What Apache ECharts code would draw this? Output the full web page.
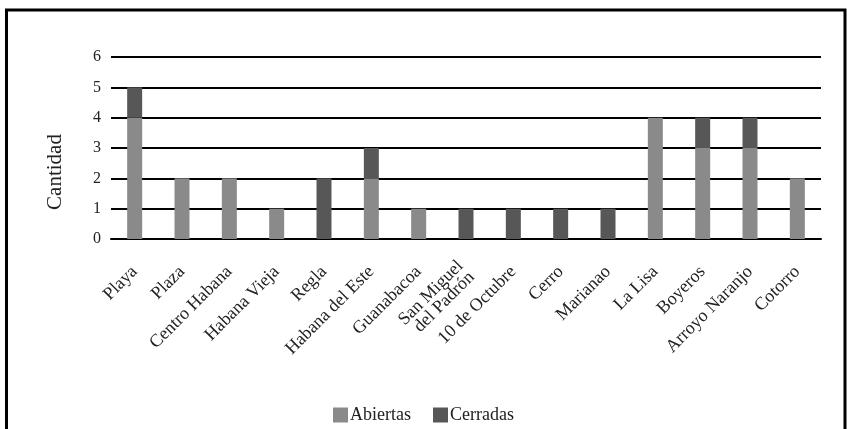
<!DOCTYPE html>
<html><head><meta charset="utf-8">
<script src="https://cdn.jsdelivr.net/npm/echarts@6/dist/echarts.min.js"></script>
<style>html,body{margin:0;padding:0;background:#fff}#c{width:847px;height:429px}</style>
</head><body><div id="c"></div>
<script>
const categories = ["Playa","Plaza","Centro Habana","Habana Vieja","Regla","Habana del Este","Guanabacoa","San Miguel\ndel Padrón","10 de Octubre","Cerro","Marianao","La Lisa","Boyeros","Arroyo Naranjo","Cotorro"];
const abiertas = [4,2,2,1,0,2,1,0,0,0,0,4,3,3,2];
const cerradas = [1,0,0,0,2,1,0,1,1,1,1,0,1,1,0];
const seriesNames = ["Abiertas","Cerradas"];
const yTicks = [0,1,2,3,4,5,6];

const font = "Liberation Serif";
const chart = echarts.init(document.getElementById('c'));
chart.setOption({
  animation:false,
  textStyle:{fontFamily:font},
  graphic:[{type:'polyline',shape:{points:[[6.5,429],[6.5,10],[845,10],[845,429]]},style:{stroke:'#000',lineWidth:3,fill:null}}],
  grid:{left:111,right:26,top:57,bottom:190},
  legend:{top:401,left:'center',itemWidth:15,itemHeight:15,itemGap:22,icon:'rect',
    textStyle:{fontFamily:font,fontSize:18,color:'#222',padding:[0,0,0,-3]},data:seriesNames},
  xAxis:{type:'category',data:categories,
    axisLine:{lineStyle:{color:'#000',width:2}},axisTick:{show:false},
    axisLabel:{rotate:45,interval:0,fontFamily:font,fontSize:18,color:'#222',margin:30,lineHeight:16}},
  yAxis:{type:'value',min:0,max:6,interval:1,name:'Cantidad',nameLocation:'middle',nameGap:45,
    nameTextStyle:{fontFamily:font,fontSize:21,color:'#222',padding:[0,48,0,0]},
    axisLine:{show:false},axisTick:{show:false},
    axisLabel:{fontFamily:font,fontSize:16,color:'#222',margin:10,
      formatter:v=>yTicks.includes(v)?String(v):''},
    splitLine:{lineStyle:{color:'#000',width:2}}},
  series:[
    {name:seriesNames[0],type:'bar',stack:'s',data:abiertas,barWidth:15,itemStyle:{color:'#8a8a8a'}},
    {name:seriesNames[1],type:'bar',stack:'s',data:cerradas,barWidth:15,itemStyle:{color:'#575757'}}
  ]
});
</script></body></html>
